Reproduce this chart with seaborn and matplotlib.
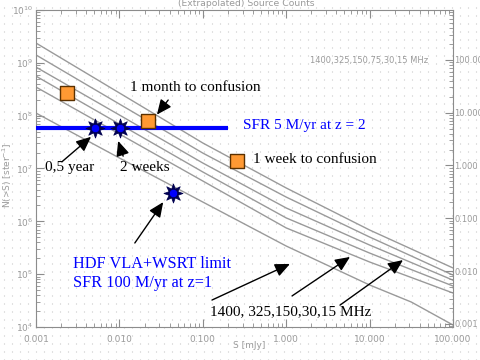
import numpy as np
import pandas as pd
import matplotlib
matplotlib.use("Agg")
import matplotlib.pyplot as plt
from matplotlib.ticker import FixedLocator, FormatStrFormatter, NullFormatter
import seaborn as sns

# flux grid [mJy] and extrapolated counts N(>S) [ster^-1]
flux = [0.001, 0.01, 0.1, 1.0, 10.0, 31.6, 100.0]
n_15 = [2.37e9, 2.69e8, 3.04e7, 4.28e6, 6.85e5, 3.0e5, 1.31e5]
n_30 = [1.41e9, 1.66e8, 1.96e7, 2.88e6, 5.05e5, 2.21e5, 9.6e4]
n_75 = [8.3e8, 1.03e8, 1.27e7, 1.79e6, 3.56e5, 1.66e5, 7.7e4]
n_150 = [5.6e8, 6.95e7, 8.6e6, 1.16e6, 2.51e5, 1.22e5, 5.97e4]
n_325 = [3.48e8, 4.5e7, 5.8e6, 7.5e5, 1.70e5, 8.65e4, 4.4e4]
n_1400 = [1.12e8, 1.58e7, 2.32e6, 3.41e5, 6.24e4, 2.97e4, 1.09e4]
freqs = ["15", "30", "75", "150", "325", "1400"]

# confusion limits (squares) and SFR sources (stars)
square_s = [0.00235, 0.022, 0.257]
square_n = [2.69e8, 7.9e7, 1.39e7]
star_s = [0.0051, 0.0102, 0.044]
star_n = [5.84e7, 5.84e7, 3.44e6]
sfr_level = 5.84e7
sfr_range = [0.001, 0.2]

# tick values
x_ticks = [0.001, 0.01, 0.1, 1.0, 10.0, 100.0]
y_ticks = [1e4, 1e5, 1e6, 1e7, 1e8, 1e9, 1e10]
right_ticks = [0.001, 0.01, 0.1, 1.0, 10.0, 100.0]
# right axis is the left axis rescaled
right_scale = 1.14e7

plt.rcParams["lines.scale_dashes"] = False

rows = []
for f, vals in zip(freqs, [n_15, n_30, n_75, n_150, n_325, n_1400]):
    for s, n in zip(flux, vals):
        rows.append({"S": s, "N": n, "freq": f})
df = pd.DataFrame(rows)

fig = plt.figure(figsize=(4.8, 3.6), dpi=100, facecolor="white")

# dotted background pattern
bg = fig.add_axes([0, 0, 1, 1], zorder=-5)
bg.set_xlim(0, 480)
bg.set_ylim(0, 360)
bg.vlines(np.arange(4, 480, 8), 0, 360, color="#c4c4c4", lw=0.8,
          linestyle=(0, (0.72, 5.04)))
bg.axis("off")

ax = fig.add_axes([36 / 480, 33 / 360, 417 / 480, 317 / 360], zorder=1)
ax.set_facecolor("none")
ax.set_xscale("log")
ax.set_yscale("log")
ax.set_xlim(1e-3, 1e2)
ax.set_ylim(1e4, 1e10)

sns.lineplot(data=df, x="S", y="N", hue="freq", palette=["#9a9a9a"] * 6,
             estimator=None, sort=False, legend=False, lw=1, ax=ax)

ax.hlines(sfr_level, sfr_range[0], sfr_range[1], color="#0000ff", lw=3, zorder=3)

sns.scatterplot(x=square_s, y=square_n, marker="s", s=95, color="#ff9933",
                edgecolor="#5a3000", linewidth=1, ax=ax, zorder=4)
sns.scatterplot(x=star_s, y=star_n, marker=(8, 1, 0), s=190, color="#000050",
                edgecolor="#000050", linewidth=0.5, ax=ax, zorder=5)
sns.scatterplot(x=star_s, y=star_n, marker="o", s=36, color="#0000ff",
                edgecolor="#000050", linewidth=0.5, ax=ax, zorder=6)

gray = "#9a9a9a"
for sp in ax.spines.values():
    sp.set_color("#8c8c8c")
    sp.set_linewidth(0.8)
ax.spines["right"].set_visible(False)
ax.xaxis.set_major_locator(FixedLocator(x_ticks))
ax.yaxis.set_major_locator(FixedLocator(y_ticks))
ax.xaxis.set_major_formatter(FormatStrFormatter("%.3f"))
ax.xaxis.set_minor_formatter(NullFormatter())
ax.yaxis.set_minor_formatter(NullFormatter())
ax.tick_params(which="both", direction="in", color="#8c8c8c", labelcolor=gray,
               labelsize=6.5, top=True, right=False)
ax.tick_params(axis="x", pad=6)
ax.tick_params(axis="y", pad=2)
ax.tick_params(which="major", length=6)
ax.tick_params(which="minor", length=3)
ax.set_xlabel("")
ax.set_ylabel("")

ax2 = ax.twinx()
ax2.set_yscale("log")
ax2.set_ylim(1e4 / right_scale, 1e10 / right_scale)
ax2.yaxis.set_major_locator(FixedLocator(right_ticks))
ax2.yaxis.set_major_formatter(FormatStrFormatter("%.3f"))
ax2.yaxis.set_minor_formatter(NullFormatter())
ax2.tick_params(which="both", direction="in", color="#8c8c8c", labelcolor=gray,
                labelsize=6, pad=1)
ax2.tick_params(which="major", length=6)
ax2.tick_params(which="minor", length=3)
for sp in ax2.spines.values():
    sp.set_visible(False)
ax2.spines["right"].set_visible(True)
ax2.spines["right"].set_color("#8c8c8c")
ax2.spines["right"].set_linewidth(0.8)

fig.text(246 / 480, 1 - 4 / 360, "(Extrapolated) Source Counts", ha="center",
         va="center", color=gray, fontsize=6.7)
fig.text(7 / 480, 1 - 175 / 360, "N(>S) [ster$^{-1}$]", rotation=90, ha="center",
         va="center", color=gray, fontsize=6.5)
fig.text(249 / 480, 1 - 345 / 360, "S [mJy]", ha="center", va="center",
         color=gray, fontsize=6.5)
ax.text(0.657, 0.842, "1400,325,150,75,30,15 MHz", transform=ax.transAxes,
        ha="left", va="center", color=gray, fontsize=6)

serif = "Liberation Serif"
labels = [
    (0.225, 0.754, "1 month to confusion", "black", 11),
    (0.496, 0.637, "SFR 5 M/yr at z = 2", "#0000ff", 11),
    (0.520, 0.527, "1 week to confusion", "black", 11),
    (0.022, 0.502, "0,5 year", "black", 11),
    (0.201, 0.502, "2 weeks", "black", 11),
    (0.089, 0.169, "HDF VLA+WSRT limit\nSFR 100 M/yr at z=1", "#0000ff", 11.7),
    (0.417, 0.047, "1400, 325,150,30,15 MHz", "black", 11),
]
for x, y, t, c, fs in labels:
    ax.text(x, y, t, transform=ax.transAxes, ha="left", va="center", color=c,
            family=serif, fontsize=fs, linespacing=1.25)

arrows = [
    ((0.290, 0.670), (0.317, 0.716)),
    ((0.132, 0.600), (0.062, 0.521)),
    ((0.197, 0.587), (0.209, 0.539)),
    ((0.305, 0.394), (0.237, 0.265)),
    ((0.609, 0.199), (0.422, 0.085)),
    ((0.753, 0.221), (0.614, 0.098)),
    ((0.880, 0.211), (0.729, 0.069)),
]
for head, tail in arrows:
    ax.annotate("", xy=head, xytext=tail, xycoords="axes fraction",
                textcoords="axes fraction",
                arrowprops=dict(arrowstyle="-|>,head_length=0.9,head_width=0.4",
                                mutation_scale=10, color="black", lw=1,
                                shrinkA=0, shrinkB=0))

fig.savefig("out.png", dpi=100)
